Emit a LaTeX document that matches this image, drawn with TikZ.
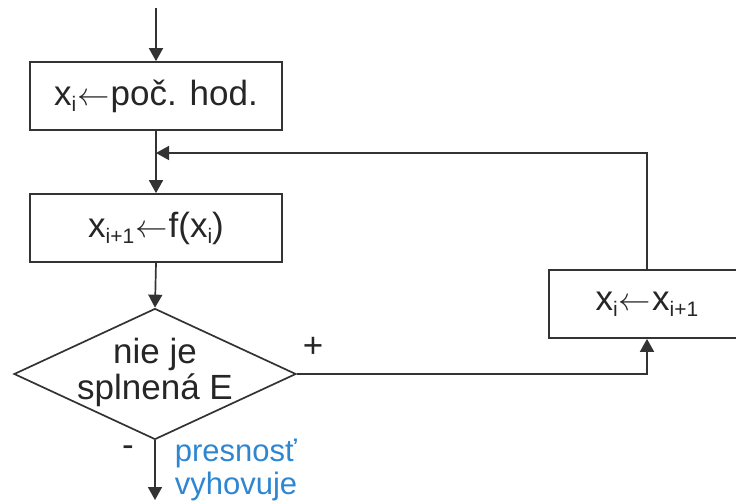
\documentclass[tikz,border=0pt]{standalone}
\usepackage{fontspec}
\setmainfont{Liberation Sans}
\usetikzlibrary{shapes.geometric,arrows.meta}
\definecolor{linegray}{HTML}{333333}
\definecolor{noteblue}{HTML}{2E86D1}
\newcommand\idx[1]{\raisebox{-6pt}{\fontsize{21}{21}\selectfont #1}}
\newcommand\assignto{\kern1pt\scalebox{1.3}{$\leftarrow$}\kern1pt}
\begin{document}
\begin{tikzpicture}[x=1pt,y=-1pt,
  font=\fontsize{35}{36}\selectfont,
  line width=1.7pt,
  procbox/.style={draw=linegray,rectangle,inner sep=0pt,
    minimum height=68pt,text=black!85},
  decision/.style={draw=linegray,diamond,inner sep=0pt,
    minimum width=282pt,minimum height=131pt},
  flow/.style={draw=linegray,-{Triangle[width=14pt,length=13pt]}},
  note/.style={inner sep=0pt,text=noteblue,anchor=west,font=\fontsize{31}{33}\selectfont}]
  \useasboundingbox (0,0) rectangle (736,503);

  % process boxes
  \node[procbox,minimum width=252pt] (init) at (156,96) {x\idx{i}\assignto poč. hod.};
  \node[procbox,minimum width=252pt] (step) at (156,228) {x\idx{i+1}\assignto f(x\idx{i})};
  \node[procbox,minimum width=196pt] (swap) at (647,304) {x\idx{i}\assignto x\idx{i+1}};

  % termination test
  \node[decision] (test) at (155,374) {};
  \node[align=center,inner sep=0pt,text=black!85] (testtxt) at (155,372) {nie je\\splnená E};

  % entry, loop-back and exit points
  \coordinate (entry) at (156,8);
  \coordinate (merge) at (156,153);
  \coordinate (exit) at (155,500);

  \draw[flow] (entry) -- (init.north);
  \draw[flow] (init.south) -- (step.north);
  \draw[flow] (step.south) -- (test.north);
  \draw[flow] (test.east) -| (swap.south);
  \draw[flow] (swap.north) |- (merge);
  \draw[flow] (test.south) -- (exit);

  % branch labels
  \node[inner sep=0pt,text=black!85] (plus) at (313,347) {+};
  \node[inner sep=0pt,text=black!85] (minus) at (128,451) {-};
  \node[note] (okA) at (174,453) {presnosť};
  \node[note] (okB) at (174,486) {vyhovuje};
\end{tikzpicture}
\end{document}
